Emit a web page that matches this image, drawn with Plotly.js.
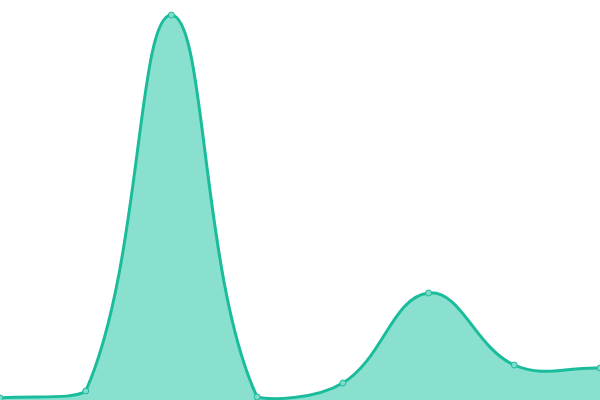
<!DOCTYPE html>
<html><head><meta charset="utf-8">
<script src="https://cdn.plot.ly/plotly-3.0.1.min.js"></script>
<style>html,body{margin:0;padding:0;background:#fff}#c{width:600px;height:400px}</style>
</head><body><div id="c"></div>
<script>
const xValues = [0, 1, 2, 3, 4, 5, 6, 7];
const yValues = [2, 9, 385, 3, 17, 107, 35, 32];

const W = 600, H = 400;
const xMin = 0, xMax = 7, yMin = 0, yMax = 400;
const tension = 0.4;

// Smooth curve (tension spline with control points kept inside the plot area),
// computed from the data in screen-proportional space, then expressed in data units.
const sx = W / (xMax - xMin), sy = H / (yMax - yMin);
const pts = xValues.map((x, i) => ({x: (x - xMin) * sx, y: (yValues[i] - yMin) * sy}));
const clamp = (v, a, b) => Math.max(a, Math.min(b, v));
pts.forEach((p, i) => {
  const prev = pts[i - 1] || p, next = pts[i + 1] || p;
  const d01 = Math.hypot(p.x - prev.x, p.y - prev.y);
  const d12 = Math.hypot(next.x - p.x, next.y - p.y);
  let s01 = d01 / (d01 + d12), s12 = d12 / (d01 + d12);
  if (isNaN(s01)) s01 = 0; if (isNaN(s12)) s12 = 0;
  const fa = tension * s01, fb = tension * s12;
  p.c1 = {x: clamp(p.x - fa * (next.x - prev.x), 0, W), y: clamp(p.y - fa * (next.y - prev.y), 0, H)};
  p.c2 = {x: clamp(p.x + fb * (next.x - prev.x), 0, W), y: clamp(p.y + fb * (next.y - prev.y), 0, H)};
});
const toData = q => (xMin + q.x / sx).toFixed(5) + ',' + (yMin + q.y / sy).toFixed(5);
let curve = 'M' + toData(pts[0]);
for (let i = 1; i < pts.length; i++) {
  curve += ' C' + toData(pts[i - 1].c2) + ' ' + toData(pts[i].c1) + ' ' + toData(pts[i]);
}
const area = curve + ' L' + xValues[xValues.length - 1] + ',' + yMin + ' L' + xValues[0] + ',' + yMin + ' Z';

Plotly.newPlot('c', [{
  x: xValues, y: yValues, type: 'scatter', mode: 'markers',
  marker: {size: 6, color: '#7fdcc9', line: {color: '#1abc9c', width: 1}},
  cliponaxis: false, hoverinfo: 'none'
}], {
  width: W, height: H, margin: {l: 0, r: 0, t: 0, b: 0},
  paper_bgcolor: '#fff', plot_bgcolor: '#fff', showlegend: false,
  xaxis: {range: [xMin, xMax], visible: false, fixedrange: true},
  yaxis: {range: [yMin, yMax], visible: false, fixedrange: true},
  shapes: [
    {type: 'path', xref: 'x', yref: 'y', path: area, fillcolor: '#89e0cf', line: {width: 0}, layer: 'below'},
    {type: 'path', xref: 'x', yref: 'y', path: curve, fillcolor: 'rgba(0,0,0,0)', line: {color: '#1abc9c', width: 3}, layer: 'below'}
  ]
}, {staticPlot: true});
</script></body></html>
